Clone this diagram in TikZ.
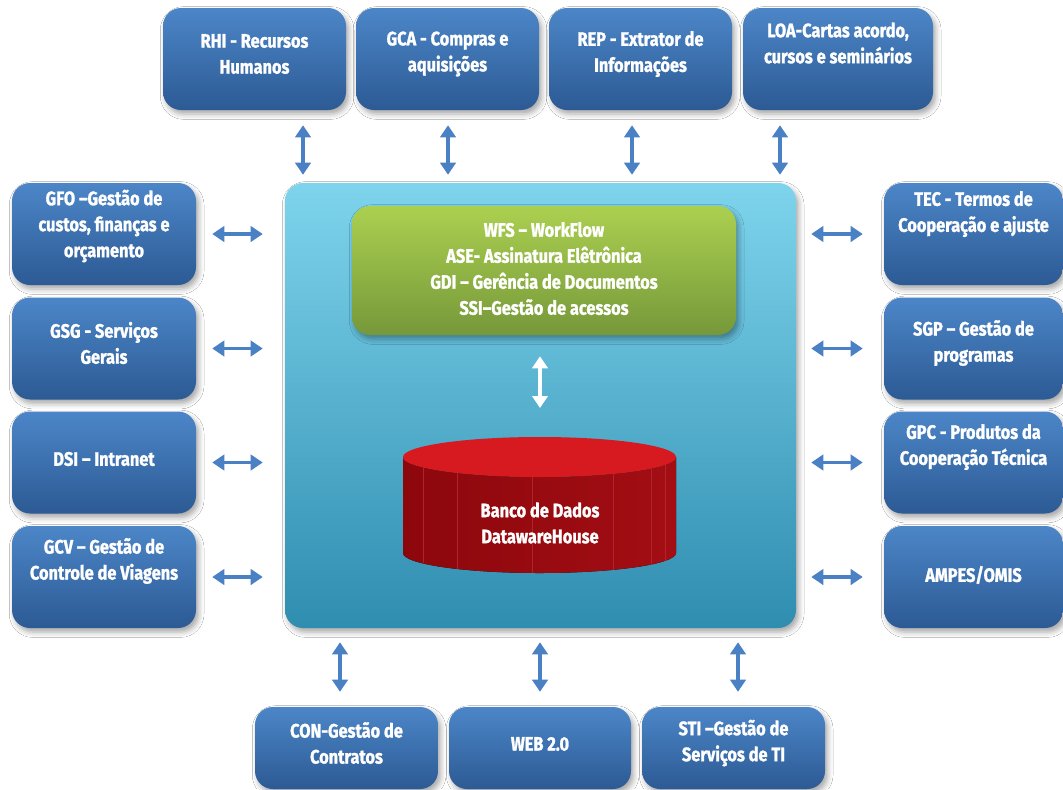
\documentclass[tikz,border=0pt]{standalone}
\usepackage{fontspec}
\setmainfont{Fira Sans}[FakeStretch=0.84, BoldFont={Fira Sans Bold}, BoldFeatures={FakeBold=1.3}]
\usetikzlibrary{arrows.meta,shadows.blur,calc}
\definecolor{bxt}{HTML}{4C86C8}
\definecolor{bxb}{HTML}{2C5A94}
\definecolor{arr}{HTML}{4A80C4}
\definecolor{pnt}{HTML}{7ED4EC}
\definecolor{pnb}{HTML}{2F8DB0}
\definecolor{grt}{HTML}{ABD050}
\definecolor{grb}{HTML}{76983A}
\definecolor{cyltop}{HTML}{D71920}
\definecolor{cyll}{HTML}{8C070C}
\definecolor{cylr}{HTML}{A30E14}
\definecolor{cylline}{HTML}{B0242A}
\begin{document}
\begin{tikzpicture}[x=0.75pt,y=-0.75pt,
  shd/.style={blur shadow={shadow xshift=2pt, shadow yshift=-3pt, shadow blur radius=4pt, shadow opacity=35}},
  box/.style 2 args={rectangle, rounded corners=13.5pt, top color=bxt, bottom color=bxb, draw=none, inner sep=0pt, minimum width=#1, minimum height=#2, shd},
  txt/.style={text=white, font=\bfseries\fontsize{14.6}{19.5}\selectfont, align=center, inner sep=0pt},
  conn/.style={draw=arr, line width=2.3pt, {Triangle[width=11.5pt,length=9pt]}-{Triangle[width=11.5pt,length=9pt]}}
]
\useasboundingbox (0,0) rectangle (1063,789);
\fill[white] (0,0) rectangle (1063,789);

% central panel
\node[rectangle, rounded corners=13.5pt, top color=pnt, bottom color=pnb, draw=none, minimum width=383.25pt, minimum height=333.75pt, shd] (panel) at (540.5,405.5) {};

% green box
\node[rectangle, rounded corners=13.5pt, top color=grt, bottom color=grb, draw=none, minimum width=288pt, minimum height=96.75pt, shd] (green) at (544,270.5) {};
\node[txt] (greent) at (544,268.5) {WFS – WorkFlow\\ASE- Assinatura Elêtrônica\\GDI – Gerência de Documentos\\SSI–Gestão de acessos};

% database cylinder
\node[minimum width=204.75pt, minimum height=102pt, inner sep=0pt] (db) at (539.5,505) {};
\fill[left color=cyll, right color=cylr] (403,457) -- (403,553) arc[start angle=180, end angle=0, x radius=136.5, y radius=20] -- (676,457) arc[start angle=0, end angle=180, x radius=136.5, y radius=20] -- cycle;
\foreach \xx/\ya/\yb in {423/467.4/563.4, 457/473/569, 532/477/573, 613/474/570, 651/468.5/564.5, 665/465/561}
  \draw[cylline, line width=0.4pt] (\xx,\ya) -- (\xx,\yb);
\fill[cyltop] (539.5,457) ellipse[x radius=136.5, y radius=20];
\node[txt] (dbt) at (540,523) {Banco de Dados\\DatawareHouse};
\coordinate (dbtop) at (540,437);

% top boxes
\node[box={137.25pt}{76.5pt}] (rhi) at (254.5,59) {};
\node[txt] (rhit) at (254.5,54) {RHI - Recursos\\Humanos};
\node[box={137.25pt}{76.5pt}] (gca) at (447.5,59) {};
\node[txt] (gcat) at (447.5,54) {GCA - Compras e\\aquisições};
\node[box={137.25pt}{76.5pt}] (rep) at (640.5,59) {};
\node[txt] (rept) at (640.5,54) {REP - Extrator de\\Informações};
\node[box={142.5pt}{76.5pt}] (loa) at (838,59) {};
\node[txt] (loat) at (838,43) {LOA-Cartas acordo,\\cursos e seminários};

% left boxes
\node[box={138pt}{76.5pt}] (gfo) at (104,234) {};
\node[txt] (gfot) at (104,226) {GFO –Gestão de\\custos, finanças e\\orçamento};
\node[box={138pt}{76.5pt}] (gsg) at (104,348.5) {};
\node[txt] (gsgt) at (104,343) {GSG - Serviços\\Gerais};
\node[box={138pt}{76.5pt}] (dsi) at (104,462.5) {};
\node[txt] (dsit) at (104,459) {DSI – Intranet};
\node[box={138pt}{76.5pt}] (gcv) at (104,577) {};
\node[txt] (gcvt) at (104,561) {GCV – Gestão de\\Controle de Viagens};

% right boxes
\node[box={134.25pt}{76.5pt}] (tec) at (973.5,234) {};
\node[txt] (tect) at (973.5,214) {TEC - Termos de\\Cooperação e ajuste};
\node[box={134.25pt}{76.5pt}] (sgp) at (973.5,348.5) {};
\node[txt] (sgpt) at (973.5,343) {SGP – Gestão de\\programas};
\node[box={134.25pt}{76.5pt}] (gpc) at (973.5,462.5) {};
\node[txt] (gpct) at (973.5,447) {GPC - Produtos da\\Cooperação Técnica};
\node[box={134.25pt}{76.5pt}] (amp) at (973.5,577) {};
\node[txt] (ampt) at (973.5,575) {AMPES/OMIS};

% bottom boxes
\node[box={137.25pt}{61.5pt}] (con) at (346.5,748) {};
\node[txt] (cont) at (346.5,743) {CON-Gestão de\\Contratos};
\node[box={136.5pt}{61.5pt}] (web) at (540,748) {};
\node[txt] (webt) at (540,744) {WEB 2.0};
\node[box={137.25pt}{61.5pt}] (sti) at (733.5,748) {};
\node[txt] (stit) at (733.5,743) {STI –Gestão de\\Serviços de TI};

% connector columns
\coordinate (ta1) at (303,0);
\coordinate (ta2) at (448,0);
\coordinate (ta3) at (632,0);
\coordinate (ta4) at (780,0);
\coordinate (ba1) at (340,0);
\coordinate (ba2) at (540,0);
\coordinate (ba3) at (738,0);

% top connectors
\draw[conn, shorten <=11.25pt, shorten >=6pt] (rhi.south -| ta1) -- (panel.north -| ta1);
\draw[conn, shorten <=11.25pt, shorten >=6pt] (gca.south -| ta2) -- (panel.north -| ta2);
\draw[conn, shorten <=11.25pt, shorten >=6pt] (rep.south -| ta3) -- (panel.north -| ta3);
\draw[conn, shorten <=11.25pt, shorten >=6pt] (loa.south -| ta4) -- (panel.north -| ta4);

% left connectors
\draw[conn, shorten <=12pt, shorten >=16.5pt] (gfo.east) -- (panel.west |- gfo.east);
\draw[conn, shorten <=12pt, shorten >=16.5pt] (gsg.east) -- (panel.west |- gsg.east);
\draw[conn, shorten <=12pt, shorten >=16.5pt] (dsi.east) -- (panel.west |- dsi.east);
\draw[conn, shorten <=12pt, shorten >=16.5pt] (gcv.east) -- (panel.west |- gcv.east);

% right connectors
\draw[conn, shorten <=11.25pt, shorten >=15.75pt] (panel.east |- tec.west) -- (tec.west);
\draw[conn, shorten <=11.25pt, shorten >=15.75pt] (panel.east |- sgp.west) -- (sgp.west);
\draw[conn, shorten <=11.25pt, shorten >=15.75pt] (panel.east |- gpc.west) -- (gpc.west);
\draw[conn, shorten <=11.25pt, shorten >=15.75pt] (panel.east |- amp.west) -- (amp.west);

% bottom connectors
\draw[conn, shorten <=10.5pt, shorten >=11.25pt] (panel.south -| ba1) -- (con.north -| ba1);
\draw[conn, shorten <=10.5pt, shorten >=11.25pt] (panel.south -| ba2) -- (web.north -| ba2);
\draw[conn, shorten <=10.5pt, shorten >=11.25pt] (panel.south -| ba3) -- (sti.north -| ba3);

% inner white connector
\draw[conn, draw=white, shorten <=15.75pt, shorten >=21.75pt] (green.south -| ba2) -- (dbtop);
\end{tikzpicture}
\end{document}
